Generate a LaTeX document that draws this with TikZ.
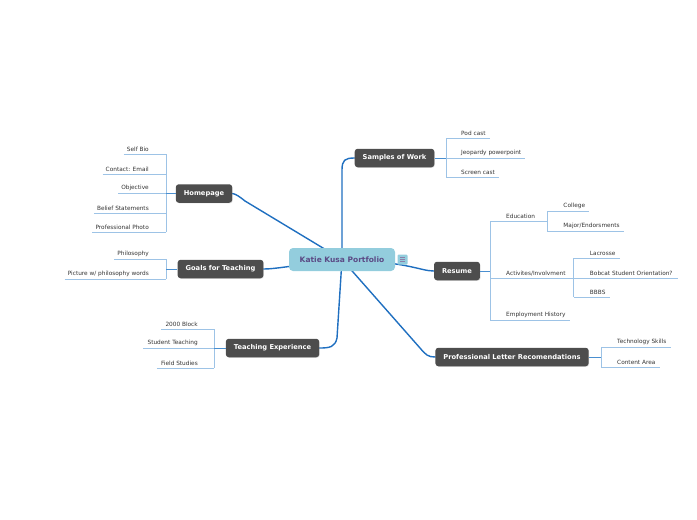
\documentclass[tikz,border=0pt]{standalone}
\usepackage{fontspec}
\setmainfont{DejaVu Sans}
\usetikzlibrary{backgrounds, shadows}

\definecolor{branchgray}{HTML}{4D4D4D}
\definecolor{rootfill}{HTML}{93CDDD}
\definecolor{roottext}{HTML}{5B4A85}
\definecolor{mainline}{HTML}{1F6FC0}
\definecolor{leafblue}{HTML}{9DC3E6}
\definecolor{joinblue}{HTML}{4A8FD0}

\tikzset{
  branch/.style={fill=branchgray, text=white, rounded corners=3pt, minimum height=18.5pt,
    inner xsep=8pt, font=\fontsize{6.7}{7}\bfseries\selectfont,
    drop shadow={opacity=0.25, shadow xshift=0.6pt, shadow yshift=-0.6pt}},
  leaf/.style={font=\fontsize{5.8}{6}\selectfont, text=black!80, inner xsep=0pt, inner ysep=1.8pt},
  leafline/.style={draw=leafblue, line width=0.8pt},
  joinline/.style={draw=joinblue, line width=1pt},
  trunk/.style={draw=mainline, line width=1.4pt, line cap=round}
}

\begin{document}
\begin{tikzpicture}[x=1pt, y=-1pt]
  \useasboundingbox (0,0) rectangle (697,520);

  % root
  \node[fill=rootfill, text=roottext, rounded corners=4pt, minimum width=106pt, minimum height=23pt,
    font=\fontsize{7.5}{8}\bfseries\selectfont] (root) at (342,259.5) {Katie Kusa Portfolio};
  \node[fill=rootfill, minimum size=10pt, inner sep=0pt, rounded corners=1pt] (menu) at (402.5,259.5) {};
  \foreach \dy in {-2.2,0,2.2}
    \draw[roottext!70, line width=0.6pt] ([xshift=-2.5pt, yshift=\dy pt]menu.center) -- ([xshift=2.5pt, yshift=\dy pt]menu.center);

  % main branches
  \node[branch] (samples) at (394.5,158) {Samples of Work};
  \node[branch] (resume) at (457,271) {Resume};
  \node[branch] (letters) at (512,357) {Professional Letter Recomendations};
  \node[branch] (homepage) at (204,193.5) {Homepage};
  \node[branch] (goals) at (220.5,269) {Goals for Teaching};
  \node[branch] (teachexp) at (272.5,348) {Teaching Experience};

  \begin{scope}[on background layer]
    \draw[trunk] (root.center) -- (342,170) .. controls (342,160) and (345,158) .. (samples.west);
    \draw[trunk] (root.center) .. controls (410,262) and (420,271) .. (resume.west);
    \draw[trunk] (root.center) -- (420,348) .. controls (426,355) and (428,357) .. (letters.west);
    \draw[trunk] (root.center) -- (245,201) .. controls (240,197) and (236,194) .. (homepage.east);
    \draw[trunk] (root.center) .. controls (290,266) and (275,269) .. (goals.east);
    \draw[trunk] (root.center) -- (337,338) .. controls (335,347) and (330,348) .. (teachexp.east);
  \end{scope}

  % homepage leaves
  \node[leaf, anchor=south east] (selfbio) at (166,154) {\kern3pt Self Bio\kern17pt};
  \node[leaf, anchor=south east] (contact) at (166,174) {\kern3pt Contact: Email\kern17pt};
  \node[leaf, anchor=south east] (objective) at (166,193) {\kern3pt Objective\kern17pt};
  \node[leaf, anchor=south east] (belief) at (166,213) {\kern3pt Belief Statements\kern17pt};
  \node[leaf, anchor=south east] (photo) at (166,232) {\kern3pt Professional Photo\kern17pt};
  \draw[leafline] (selfbio.south east) -- (photo.south east);
  \draw[joinline] (homepage.west) -- (homepage.west -| objective.south east);

  % goals leaves
  \node[leaf, anchor=south east] (philosophy) at (166,259) {\kern3pt Philosophy\kern17pt};
  \node[leaf, anchor=south east] (picture) at (166,279) {\kern3pt Picture w/ philosophy words\kern17pt};
  \draw[leafline] (philosophy.south east) -- (picture.south east);
  \draw[joinline] (goals.west) -- (goals.west -| picture.south east);

  % teaching experience leaves
  \node[leaf, anchor=south east] (block) at (214,329) {\kern4pt 2000 Block\kern16pt};
  \node[leaf, anchor=south east] (student) at (214,348) {\kern4pt Student Teaching\kern16pt};
  \node[leaf, anchor=south east] (field) at (214,368) {\kern4pt Field Studies\kern16pt};
  \draw[leafline] (block.south east) -- (field.south east);
  \draw[joinline] (teachexp.west) -- (teachexp.west -| student.south east);

  % samples leaves
  \node[leaf, anchor=south west] (podcast) at (446,138) {\kern15pt Pod cast\kern4pt};
  \node[leaf, anchor=south west] (jeopardy) at (446,158) {\kern15pt Jeopardy powerpoint\kern4pt};
  \node[leaf, anchor=south west] (screencast) at (446,177) {\kern15pt Screen cast\kern4pt};
  \draw[leafline] (podcast.south west) -- (screencast.south west);
  \draw[joinline] (samples.east) -- (samples.east -| jeopardy.south west);

  % resume leaves
  \node[leaf, anchor=south west] (education) at (490,221) {\kern16pt Education\kern12pt};
  \node[leaf, anchor=south west] (activities) at (490,278) {\kern16pt Activites/Involvment\kern8pt};
  \node[leaf, anchor=south west] (employment) at (490,320) {\kern16pt Employment History\kern4pt};
  \draw[leafline] (education.south west) -- (employment.south west);
  \draw[joinline] (resume.east) -- (resume.east -| activities.south west);

  \node[leaf, anchor=south west] (college) at ([yshift=10pt]education.south east) {\kern16pt College\kern4pt};
  \node[leaf, anchor=south west] (major) at ([yshift=-10pt]education.south east) {\kern16pt Major/Endorsments\kern4pt};
  \draw[leafline] (college.south west) -- (major.south west);

  \node[leaf, anchor=south west] (lacrosse) at ([yshift=20pt]activities.south east) {\kern16pt Lacrosse\kern4pt};
  \node[leaf, anchor=south west] (bobcat) at (activities.south east) {\kern16pt Bobcat Student Orientation?\kern5pt};
  \node[leaf, anchor=south west] (bbbs) at ([yshift=-19pt]activities.south east) {\kern16pt BBBS\kern4pt};
  \draw[leafline] (lacrosse.south west) -- (bbbs.south west);

  % letter leaves
  \node[leaf, anchor=south west] (techskills) at (601,347) {\kern16pt Technology Skills\kern4pt};
  \node[leaf, anchor=south west] (content) at (601,367) {\kern16pt Content Area\kern4pt};
  \draw[leafline] (techskills.south west) -- (content.south west);
  \draw[joinline] (letters.east) -- (letters.east -| techskills.south west);

  \foreach \n in {selfbio, contact, objective, belief, photo, philosophy, picture, block, student, field,
      podcast, jeopardy, screencast, education, activities, employment, college, major,
      lacrosse, bobcat, bbbs, techskills, content}
    \draw[leafline] (\n.south west) -- (\n.south east);
\end{tikzpicture}
\end{document}
